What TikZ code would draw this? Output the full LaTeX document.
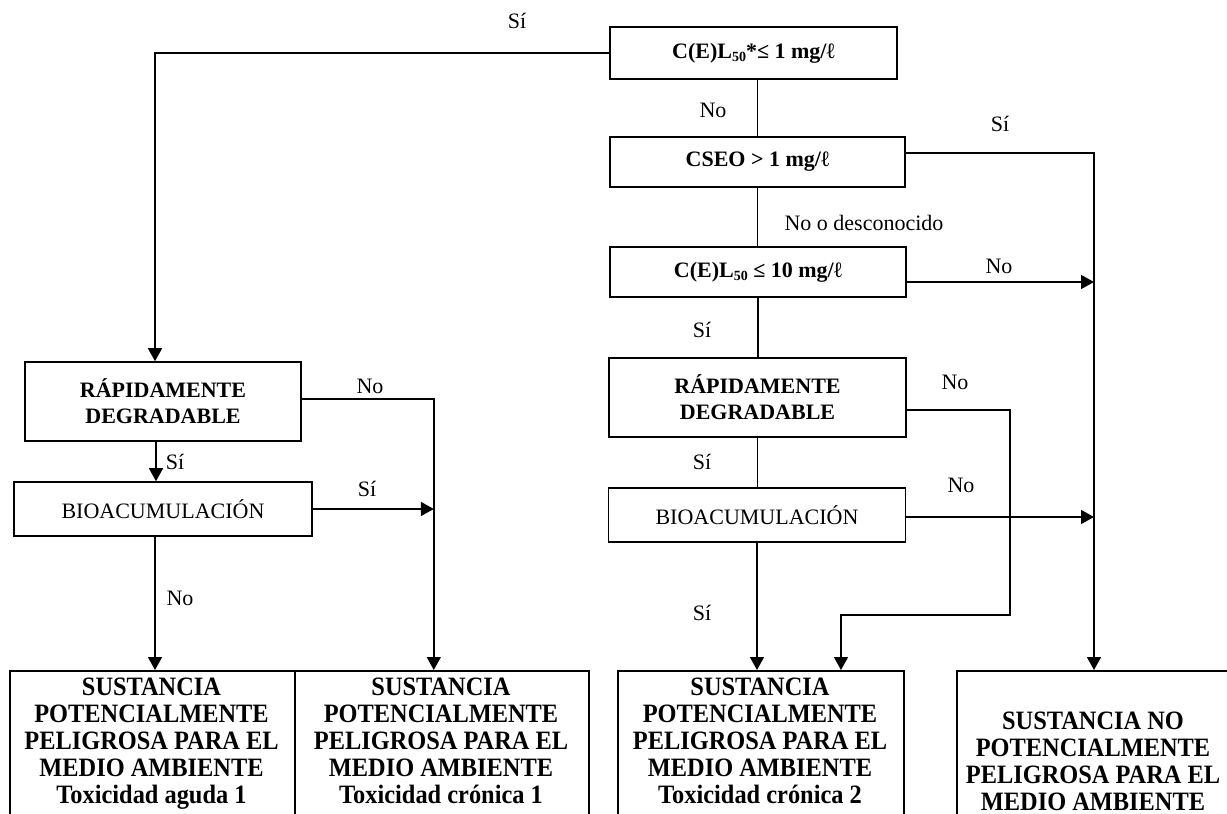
\documentclass[tikz,border=0pt]{standalone}
\usepackage{fontspec}
\setmainfont{Liberation Serif}
\usetikzlibrary{arrows.meta}
\newcommand\subnum[1]{\raisebox{-0.35ex}{\fontsize{14}{14}\selectfont\bfseries #1}}
\begin{document}
\begin{tikzpicture}[x=1pt,y=-1pt,line width=1.6pt,
  box/.style={draw,inner sep=0pt,align=center,font={\fontsize{22}{26}\selectfont\bfseries}},
  pbox/.style={draw,inner sep=0pt,align=center,font={\fontsize{22}{26}\selectfont}},
  fbox/.style={draw,inner sep=0pt,anchor=north west,minimum height=200pt},
  ftext/.style={inner sep=0pt,align=center,anchor=north,font={\fontsize{26.5}{27}\selectfont\bfseries\addfontfeature{FakeStretch=0.92}}},
  lbl/.style={inner sep=0pt,font={\fontsize{22}{26}\selectfont}},
  arr/.style={-{Triangle[length=13pt,width=14pt]}}]
\useasboundingbox (0,0) rectangle (1227,814);
\clip (0,0) rectangle (1227,814);

% decision boxes
\node[box,minimum width=287pt,minimum height=52pt] (q1) at (753.5,53) {C(E)L\subnum{50}*≤ 1 mg/ℓ};
\node[box,minimum width=295pt,minimum height=50pt] (q2) at (757.5,162) {CSEO > 1 mg/ℓ};
\node[box,minimum width=296pt,minimum height=50pt] (q3) at (758,272) {C(E)L\subnum{50} ≤ 10 mg/ℓ};
\node[box,minimum width=297pt,minimum height=79pt] (r2) at (757.5,397.5) {RÁPIDAMENTE\\DEGRADABLE};
\node[pbox,minimum width=297pt,minimum height=54pt] (b2) at (757,515) {BIOACUMULACIÓN};
\node[box,minimum width=276pt,minimum height=79pt] (r1) at (163,401.5) {RÁPIDAMENTE\\DEGRADABLE};
\node[pbox,minimum width=298pt,minimum height=54pt] (b1) at (163,509) {BIOACUMULACIÓN};

% result boxes (bottom cut by the page edge)
\node[fbox,minimum width=285pt] (f1) at (9,670) {};
\node[fbox,minimum width=294pt] (f2) at (294,670) {};
\node[fbox,minimum width=286pt] (f3) at (617,670) {};
\node[fbox,minimum width=308pt] (f4) at (956,670) {};
\node[ftext] (t1) at (151.5,677) {SUSTANCIA\\POTENCIALMENTE\\PELIGROSA PARA EL\\MEDIO AMBIENTE\\Toxicidad aguda 1};
\node[ftext] (t2) at (441,677) {SUSTANCIA\\POTENCIALMENTE\\PELIGROSA PARA EL\\MEDIO AMBIENTE\\Toxicidad crónica 1};
\node[ftext] (t3) at (760,677) {SUSTANCIA\\POTENCIALMENTE\\PELIGROSA PARA EL\\MEDIO AMBIENTE\\Toxicidad crónica 2};
\node[ftext] (t4) at (1093,711) {SUSTANCIA NO\\POTENCIALMENTE\\PELIGROSA PARA EL\\MEDIO AMBIENTE};

% helper coordinates
\coordinate (rv) at (1094,153);
\coordinate (k1) at (1010,615);
\coordinate (k2) at (841,615);
\coordinate (lv) at ([xshift=-8pt]f2.north);

% connectors
\draw[arr] (q1.west) -| ([xshift=-8pt]r1.north);
\draw (q1.south -| q2.north) -- (q2.north);
\draw[arr] ([yshift=9pt]q2.east) -- (rv) -- (rv |- f4.north);
\draw (q2.south) -- (q2.south |- q3.north);
\draw[arr] ([yshift=-10pt]q3.east) -- ([yshift=-10pt]q3.east -| rv);
\draw (q3.south) -- (q3.south |- r2.north);
\draw[arr] ([yshift=-12.5pt]r2.east) -| (k1) -- (k2) -- (k2 |- f3.north);
\draw (r2.south) -- (r2.south |- b2.north);
\draw[arr] ([yshift=-2pt]b2.east) -- ([yshift=-2pt]b2.east -| rv);
\draw[arr] (b2.south) -- (b2.south |- f3.north);
\draw[arr] ([yshift=2.5pt]r1.east) -| (lv);
\draw[arr] ([xshift=-7pt]r1.south) -- ([xshift=-7pt]b1.north);
\draw[arr] (b1.east) -- (b1.east -| lv);
\draw[arr] ([xshift=-8pt]b1.south) -- ([xshift=-8pt]b1.south |- f1.north);

% labels
\node[lbl] (l1) at (517,21) {Sí};
\node[lbl] (l2) at (713,110) {No};
\node[lbl] (l3) at (1000,124) {Sí};
\node[lbl] (l4) at (864,223) {No o desconocido};
\node[lbl] (l5) at (999,266) {No};
\node[lbl] (l6) at (702,330) {Sí};
\node[lbl] (l7) at (955,382) {No};
\node[lbl] (l8) at (702,462) {Sí};
\node[lbl] (l9) at (961,485) {No};
\node[lbl] (l10) at (702,613) {Sí};
\node[lbl] (l11) at (370,386) {No};
\node[lbl] (l12) at (175,462) {Sí};
\node[lbl] (l13) at (367,489) {Sí};
\node[lbl] (l14) at (180,598) {No};
\end{tikzpicture}
\end{document}
